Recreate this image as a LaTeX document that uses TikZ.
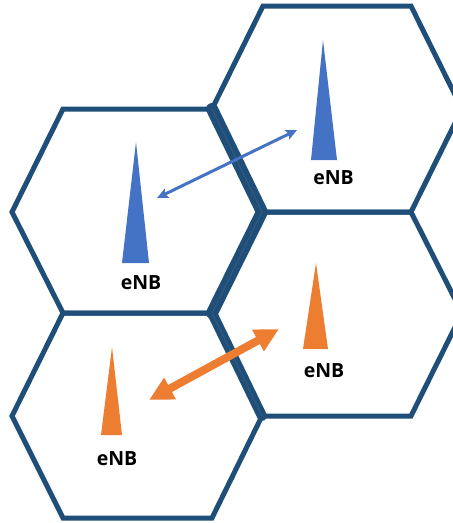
\documentclass[tikz,border=0pt]{standalone}
\usepackage{fontspec}
\setmainfont{Open Sans}
\usetikzlibrary{arrows.meta}
\definecolor{hexc}{RGB}{31,78,121}
\definecolor{hexs}{RGB}{50,90,130}
\definecolor{enbblue}{RGB}{68,114,196}
\definecolor{enborange}{RGB}{237,125,49}
\tikzset{
  hexcell/.style={draw=hexc,line width=5pt,line join=miter},
  sharededge/.style={draw=hexc,line width=#1,line cap=round},
  stripe/.style={draw=hexs,line width=1pt},
  bluetower/.style={fill=enbblue},
  orangetower/.style={fill=enborange},
  enblabel/.style={font=\fontsize{19.5}{22}\selectfont\bfseries,text=black,inner sep=0pt},
  bluelink/.style={draw=enbblue,line width=3pt,{Stealth[length=11pt,width=10pt,inset=2pt]}-{Stealth[length=11pt,width=10pt,inset=2pt]}},
  orangelink/.style={draw=enborange,line width=8pt,{Triangle[length=24pt,width=23pt]}-{Triangle[length=24pt,width=23pt]}}
}
\begin{document}
\begin{tikzpicture}[x=1pt,y=-1pt]
\useasboundingbox (0,0) rectangle (453,523);
\clip (0,0) rectangle (453,523);
% hexagons
\draw[hexcell] (12,212) -- (63,109) -- (212,109) -- (262,212) -- (212,313) -- (63,313) -- cycle;
\draw[hexcell] (212,109) -- (263,6) -- (411,6) -- (462,109) -- (411,212) -- (262,212) -- cycle;
\draw[hexcell] (212,313) -- (262,212) -- (411,212) -- (462,313) -- (411,416) -- (262,416) -- cycle;
\draw[hexcell] (12,416) -- (63,313) -- (212,313) -- (262,416) -- (212,518) -- (63,518) -- cycle;
% doubled shared edges
\coordinate (v1) at (212,109);
\coordinate (v2) at (262,212);
\coordinate (v3) at (212,313);
\coordinate (v4) at (262,416);
\draw[sharededge=12pt] (v1) -- (v2) -- (v3);
\draw[sharededge=10pt] (v3) -- (v4);
\draw[stripe] (v1) -- (v2) -- (v3) -- (v4);
% towers
\fill[bluetower] (136,142) -- (149,263) -- (122,263) -- cycle;
\fill[bluetower] (323,40) -- (337,160) -- (311,160) -- cycle;
\fill[orangetower] (316,263) -- (328,349) -- (303,349) -- cycle;
\fill[orangetower] (112,347) -- (122,435) -- (101,435) -- cycle;
% labels
\node[enblabel] (l1) at (141,283) {eNB};
\node[enblabel] (l2) at (333.5,177.5) {eNB};
\node[enblabel] (l3) at (324,371) {eNB};
\node[enblabel] (l4) at (117,459) {eNB};
% links
\coordinate (a1) at (157,198);
\coordinate (a2) at (297,130);
\coordinate (b1) at (149,400);
\coordinate (b2) at (279,329);
\draw[bluelink] (a1) -- (a2);
\draw[orangelink] (b1) -- (b2);
\end{tikzpicture}
\end{document}
